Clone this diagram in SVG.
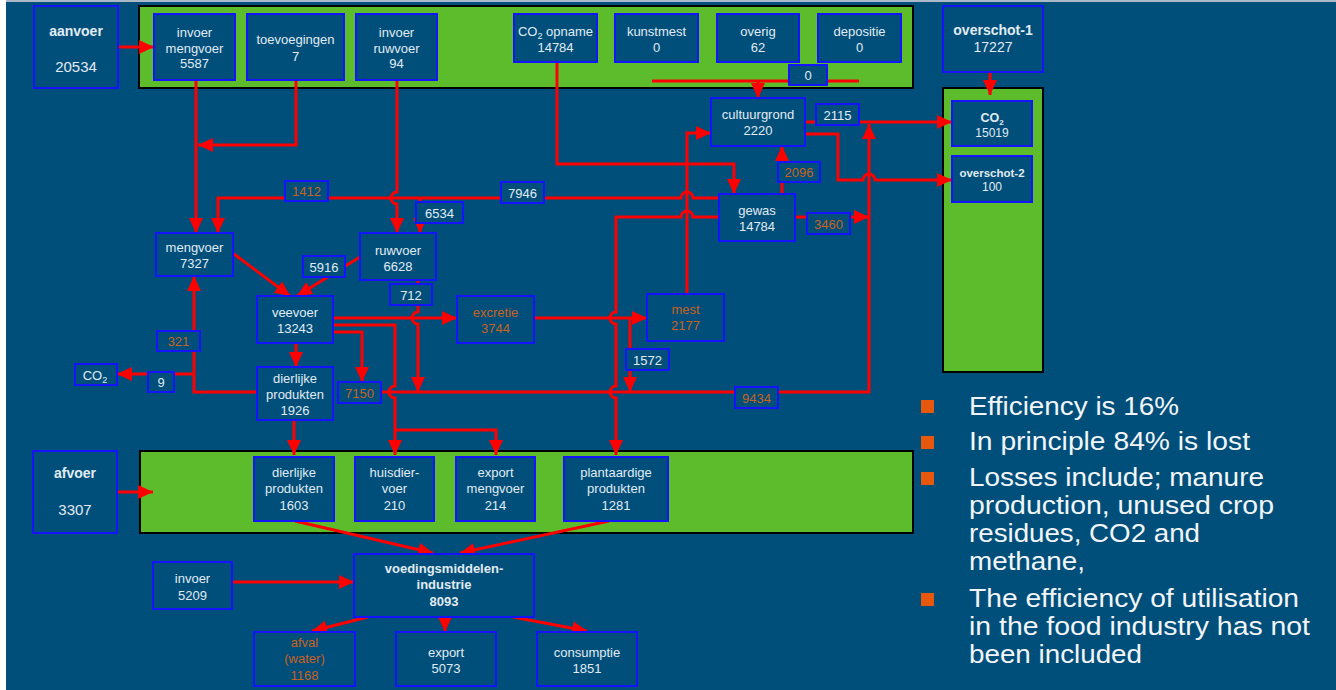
<svg xmlns="http://www.w3.org/2000/svg" width="1336" height="690" viewBox="0 0 1336 690">
<style>
.bg{fill:#004f7a}
.g{fill:#5dbc2c;stroke:#000;stroke-width:2}
.n{fill:#004f7a;stroke:#1414ff;stroke-width:2}
.t{font-family:"Liberation Sans",Arial,sans-serif;font-size:13px;fill:#e2ebf2;text-anchor:middle}
.o{fill:#c8621e}
.b{font-weight:bold}
.c{fill:none;stroke:#ff0000;stroke-width:3}
.bul{fill:#e8580c}
.big{font-family:"Liberation Sans",Arial,sans-serif;font-size:25px;fill:#f2f5f8}
</style>
<defs>
<marker id="ah" markerUnits="userSpaceOnUse" markerWidth="16" markerHeight="14" refX="15" refY="7" orient="auto">
<path d="M0,0 L15,7 L0,14 z" fill="#ff0000"/>
</marker>
</defs>
<rect x="0" y="0" width="1336" height="690" fill="#ffffff"/>
<rect class="bg" x="6" y="1" width="1330" height="689"/>
<rect x="6" y="0" width="1330" height="2" fill="#a9b9c8"/>

<g id="containers">
<rect class="g" x="139" y="6" width="774" height="82"/>
<rect class="g" x="943" y="88" width="100" height="284"/>
<rect class="g" x="140" y="451" width="773" height="82"/>
</g>

<g id="connectors">
<path class="c" d="M118,47 H154" marker-end="url(#ah)"/>
<path class="c" d="M196,80 V233" marker-end="url(#ah)"/>
<path class="c" d="M296,80 V145 H198" marker-end="url(#ah)"/>
<path class="c" d="M397,80 V192 A6,6 0 0 0 397,204 V233" marker-end="url(#ah)"/>
<path class="c" d="M719,198 H693 A6,6 0 0 0 681,198 H218 V233" marker-end="url(#ah)"/>
<path class="c" d="M420,198 V233" marker-end="url(#ah)"/>
<path class="c" d="M557,62 V164 H734 V194" marker-end="url(#ah)"/>
<path class="c" d="M782,194 V146" marker-end="url(#ah)"/>
<path class="c" d="M795,217 H869" marker-end="url(#ah)"/>
<path class="c" d="M719,217 H693 A6,6 0 0 0 681,217 H616 V312 A6,6 0 0 0 616,324 V386 A6,6 0 0 0 616,398 V455" marker-end="url(#ah)"/>
<path class="c" d="M687,294 V133 H711" marker-end="url(#ah)"/>
<path class="c" d="M805,122 H952" marker-end="url(#ah)"/>
<path class="c" d="M805,134 H838 V180 H863 A6,6 0 0 1 875,180 H952" marker-end="url(#ah)"/>
<path class="c" d="M381,392 H869 V124" marker-end="url(#ah)"/>
<path class="c" d="M333,318 H457" marker-end="url(#ah)"/>
<path class="c" d="M418,280 V312 A6,6 0 0 0 418,324 V392" marker-end="url(#ah)"/>
<path class="c" d="M333,332 H362 V382" marker-end="url(#ah)"/>
<path class="c" d="M333,325 H395 V386 A6,6 0 0 0 395,398 V455" marker-end="url(#ah)"/>
<path class="c" d="M395,430 H496 V455" marker-end="url(#ah)"/>
<path class="c" d="M296,343 V367" marker-end="url(#ah)"/>
<path class="c" d="M294,420 V455" marker-end="url(#ah)"/>
<path class="c" d="M257,392 H194 V276" marker-end="url(#ah)"/>
<path class="c" d="M194,374 H117" marker-end="url(#ah)"/>
<path class="c" d="M534,318 H647" marker-end="url(#ah)"/>
<path class="c" d="M630,318 V392" marker-end="url(#ah)"/>
<path class="c" d="M360,257 L297,296" marker-end="url(#ah)"/>
<path class="c" d="M234,254 L290,296" marker-end="url(#ah)"/>
<path class="c" d="M652,81 H859"/>
<path class="c" d="M758,81 V98" marker-end="url(#ah)"/>
<path class="c" d="M990,72 V95" marker-end="url(#ah)"/>
<path class="c" d="M117,492 H153" marker-end="url(#ah)"/>
<path class="c" d="M295,521 L433,553" marker-end="url(#ah)"/>
<path class="c" d="M609,521 L460,553" marker-end="url(#ah)"/>
<path class="c" d="M232,582 H354" marker-end="url(#ah)"/>
<path class="c" d="M368,617 L312,631" marker-end="url(#ah)"/>
<path class="c" d="M445,617 V632" marker-end="url(#ah)"/>
<path class="c" d="M513,617 L587,631" marker-end="url(#ah)"/>
</g>

<g id="aanvoer"><rect class="n" x="34" y="6" width="84" height="82"/><text class="t b" x="76" y="36" style="font-size:14px">aanvoer</text><text class="t" x="76" y="72" style="font-size:15px">20534</text></g>
<g id="invoer-mengvoer"><rect class="n" x="154" y="14" width="81" height="66"/><text class="t" x="194.5" y="37">invoer</text><text class="t" x="194.5" y="53">mengvoer</text><text class="t" x="194.5" y="68">5587</text></g>
<g id="toevoegingen"><rect class="n" x="247" y="14" width="97" height="66"/><text class="t" x="295.5" y="44">toevoegingen</text><text class="t" x="295.5" y="61">7</text></g>
<g id="invoer-ruwvoer"><rect class="n" x="356" y="14" width="81" height="66"/><text class="t" x="396.5" y="37">invoer</text><text class="t" x="396.5" y="53">ruwvoer</text><text class="t" x="396.5" y="68">94</text></g>
<g id="co2-opname"><rect class="n" x="514" y="14" width="83" height="48"/><text class="t" x="555.5" y="36">CO<tspan font-size="9" dy="3">2</tspan><tspan dy="-3"> opname</tspan></text><text class="t" x="555.5" y="52">14784</text></g>
<g id="kunstmest"><rect class="n" x="615" y="14" width="83" height="48"/><text class="t" x="656.5" y="36">kunstmest</text><text class="t" x="656.5" y="52">0</text></g>
<g id="overig"><rect class="n" x="717" y="14" width="82" height="48"/><text class="t" x="758" y="36">overig</text><text class="t" x="758" y="52">62</text></g>
<g id="depositie"><rect class="n" x="818" y="14" width="83" height="48"/><text class="t" x="859.5" y="36">depositie</text><text class="t" x="859.5" y="52">0</text></g>
<g id="lbl-0"><rect class="n" x="789" y="65" width="38" height="20"/><text class="t" x="808" y="80">0</text></g>
<g id="overschot-1"><rect class="n" x="943" y="6" width="100" height="66"/><text class="t b" x="993" y="35" style="font-size:14px">overschot-1</text><text class="t" x="993" y="52" style="font-size:14px">17227</text></g>
<g id="co2-out"><rect class="n" x="952" y="101" width="80" height="45"/><text class="t b" x="992" y="122" style="font-size:12.5px">CO<tspan font-size="8" dy="3">2</tspan></text><text class="t" x="992" y="137" style="font-size:12px">15019</text></g>
<g id="overschot-2"><rect class="n" x="952" y="156" width="80" height="46"/><text class="t b" x="992" y="177" style="font-size:11.5px">overschot-2</text><text class="t" x="992" y="191" style="font-size:12px">100</text></g>
<g id="cultuurgrond"><rect class="n" x="711" y="98" width="94" height="48"/><text class="t" x="758" y="119">cultuurgrond</text><text class="t" x="758" y="135">2220</text></g>
<g id="lbl-2115"><rect class="n" x="816" y="104" width="43" height="21"/><text class="t" x="837.5" y="120">2115</text></g>
<g id="lbl-2096"><rect class="n" x="778" y="162" width="42" height="20"/><text class="t o" x="799" y="177">2096</text></g>
<g id="gewas"><rect class="n" x="719" y="194" width="76" height="47"/><text class="t" x="757" y="215">gewas</text><text class="t" x="757" y="231">14784</text></g>
<g id="lbl-3460"><rect class="n" x="807" y="213" width="43" height="21"/><text class="t o" x="828.5" y="229">3460</text></g>
<g id="lbl-7946"><rect class="n" x="501" y="182" width="43" height="21"/><text class="t" x="522.5" y="198">7946</text></g>
<g id="lbl-6534"><rect class="n" x="416" y="202" width="47" height="21"/><text class="t" x="439.5" y="218">6534</text></g>
<g id="lbl-1412"><rect class="n" x="285" y="181" width="43" height="20"/><text class="t o" x="306.5" y="196">1412</text></g>
<g id="mengvoer"><rect class="n" x="156" y="233" width="77" height="43"/><text class="t" x="194.5" y="252">mengvoer</text><text class="t" x="194.5" y="268">7327</text></g>
<g id="ruwvoer"><rect class="n" x="360" y="233" width="76" height="47"/><text class="t" x="398" y="255">ruwvoer</text><text class="t" x="398" y="271">6628</text></g>
<g id="lbl-5916"><rect class="n" x="303" y="256" width="42" height="21"/><text class="t" x="324" y="272">5916</text></g>
<g id="veevoer"><rect class="n" x="257" y="296" width="76" height="47"/><text class="t" x="295" y="317">veevoer</text><text class="t" x="295" y="333">13243</text></g>
<g id="lbl-712"><rect class="n" x="390" y="284" width="42" height="21"/><text class="t" x="411" y="300">712</text></g>
<g id="excretie"><rect class="n" x="457" y="296" width="77" height="47"/><text class="t o" x="495.5" y="317">excretie</text><text class="t o" x="495.5" y="333">3744</text></g>
<g id="mest"><rect class="n" x="647" y="294" width="77" height="47"/><text class="t o" x="685.5" y="314">mest</text><text class="t o" x="685.5" y="330">2177</text></g>
<g id="lbl-1572"><rect class="n" x="626" y="349" width="43" height="21"/><text class="t" x="647.5" y="365">1572</text></g>
<g id="lbl-321"><rect class="n" x="157" y="331" width="43" height="20"/><text class="t o" x="178.5" y="346">321</text></g>
<g id="co2-left"><rect class="n" x="75" y="364" width="42" height="21"/><text class="t" x="95" y="380">CO<tspan font-size="9" dy="3">2</tspan></text></g>
<g id="lbl-9"><rect class="n" x="148" y="372" width="26" height="20"/><text class="t" x="161" y="387">9</text></g>
<g id="dierlijke-produkten"><rect class="n" x="257" y="367" width="76" height="53"/><text class="t" x="295" y="383">dierlijke</text><text class="t" x="295" y="399">produkten</text><text class="t" x="295" y="415">1926</text></g>
<g id="lbl-7150"><rect class="n" x="338" y="382" width="43" height="21"/><text class="t o" x="359.5" y="398">7150</text></g>
<g id="lbl-9434"><rect class="n" x="735" y="387" width="43" height="21"/><text class="t o" x="756.5" y="403">9434</text></g>
<g id="afvoer"><rect class="n" x="33" y="451" width="84" height="82"/><text class="t b" x="75" y="478" style="font-size:14px">afvoer</text><text class="t" x="75" y="515" style="font-size:15px">3307</text></g>
<g id="af-dierlijke"><rect class="n" x="254" y="457" width="80" height="64"/><text class="t" x="294" y="477">dierlijke</text><text class="t" x="294" y="493">produkten</text><text class="t" x="294" y="510">1603</text></g>
<g id="af-huisdiervoer"><rect class="n" x="355" y="457" width="79" height="64"/><text class="t" x="394.5" y="477">huisdier-</text><text class="t" x="394.5" y="493">voer</text><text class="t" x="394.5" y="510">210</text></g>
<g id="af-export-mengvoer"><rect class="n" x="456" y="457" width="79" height="64"/><text class="t" x="495.5" y="477">export</text><text class="t" x="495.5" y="493">mengvoer</text><text class="t" x="495.5" y="510">214</text></g>
<g id="af-plantaardig"><rect class="n" x="564" y="457" width="104" height="64"/><text class="t" x="616" y="477">plantaardige</text><text class="t" x="616" y="493">produkten</text><text class="t" x="616" y="510">1281</text></g>
<g id="voedingsmiddelenindustrie"><rect class="n" x="354" y="554" width="180" height="63"/><text class="t b" x="444" y="573">voedingsmiddelen-</text><text class="t b" x="444" y="589">industrie</text><text class="t b" x="444" y="606">8093</text></g>
<g id="invoer-5209"><rect class="n" x="153" y="562" width="79" height="47"/><text class="t" x="192.5" y="583">invoer</text><text class="t" x="192.5" y="600">5209</text></g>
<g id="afval"><rect class="n" x="254" y="632" width="101" height="54"/><text class="t o" x="304.5" y="647">afval</text><text class="t o" x="304.5" y="663">(water)</text><text class="t o" x="304.5" y="680">1168</text></g>
<g id="export-5073"><rect class="n" x="396" y="632" width="100" height="54"/><text class="t" x="446" y="657">export</text><text class="t" x="446" y="673">5073</text></g>
<g id="consumptie"><rect class="n" x="537" y="632" width="100" height="54"/><text class="t" x="587" y="657">consumptie</text><text class="t" x="587" y="673">1851</text></g>

<g id="bullets">
<rect class="bul" x="921" y="400" width="13" height="13"/>
<rect class="bul" x="921" y="436" width="13" height="13"/>
<rect class="bul" x="921" y="472" width="13" height="13"/>
<rect class="bul" x="921" y="593" width="13" height="13"/>
<text class="big" x="969" y="415" textLength="210" lengthAdjust="spacingAndGlyphs">Efficiency is 16%</text>
<text class="big" x="969" y="450" textLength="281" lengthAdjust="spacingAndGlyphs">In principle 84% is lost</text>
<text class="big" x="969" y="486" textLength="295" lengthAdjust="spacingAndGlyphs">Losses include; manure</text>
<text class="big" x="969" y="514" textLength="305" lengthAdjust="spacingAndGlyphs">production, unused crop</text>
<text class="big" x="969" y="542" textLength="231" lengthAdjust="spacingAndGlyphs">residues, CO2 and</text>
<text class="big" x="969" y="570" textLength="116" lengthAdjust="spacingAndGlyphs">methane,</text>
<text class="big" x="969" y="607" textLength="330" lengthAdjust="spacingAndGlyphs">The efficiency of utilisation</text>
<text class="big" x="969" y="635" textLength="341" lengthAdjust="spacingAndGlyphs">in the food industry has not</text>
<text class="big" x="969" y="663" textLength="173" lengthAdjust="spacingAndGlyphs">been included</text>
</g>
</svg>
